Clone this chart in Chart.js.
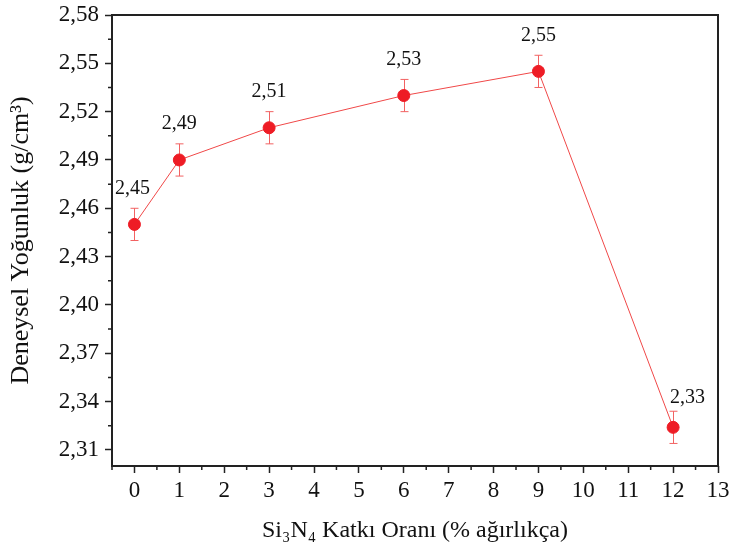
<!DOCTYPE html>
<html>
<head>
<meta charset="utf-8">
<script src="https://cdn.jsdelivr.net/npm/chart.js@4/dist/chart.umd.min.js"></script>
<style>
  body { margin: 0; background: #fff; }
  #wrap { width: 731px; height: 549px; }
</style>
</head>
<body>
<div id="wrap"><canvas id="grafik"></canvas></div>
<script>
// veriler
const katki = [0, 1, 3, 6, 9, 12];
const yogunluk = [2.450, 2.490, 2.510, 2.530, 2.545, 2.324];
const hata = [0.010, 0.010, 0.010, 0.010, 0.010, 0.010];
const etiketler = ['2,45', '2,49', '2,51', '2,53', '2,55', '2,33'];
const xTicks = [0, 1, 2, 3, 4, 5, 6, 7, 8, 9, 10, 11, 12, 13];
const yTicks = [2.31, 2.34, 2.37, 2.40, 2.43, 2.46, 2.49, 2.52, 2.55, 2.58];

const kirmizi = '#ee1c25';
const font = 'Liberation Serif';

// çerçeve, ara çentikler, hata çubukları ve etiketler
const ekler = {
  id: 'ekler',
  beforeDatasetsDraw(chart) {
    const ctx = chart.ctx;
    const xs = chart.scales.x, ys = chart.scales.y;
    ctx.save();
    ctx.strokeStyle = '#f26262';
    ctx.lineWidth = 1;
    katki.forEach((k, i) => {
      const px = Math.round(xs.getPixelForValue(k)) + 0.5;
      const y1 = ys.getPixelForValue(yogunluk[i] + hata[i]);
      const y2 = ys.getPixelForValue(yogunluk[i] - hata[i]);
      ctx.beginPath();
      ctx.moveTo(px, y1); ctx.lineTo(px, y2);
      ctx.moveTo(px - 4, y1); ctx.lineTo(px + 4, y1);
      ctx.moveTo(px - 4, y2); ctx.lineTo(px + 4, y2);
      ctx.stroke();
    });
    ctx.restore();
  },
  afterDatasetsDraw(chart) {
    const ctx = chart.ctx;
    const a = chart.chartArea;
    const xs = chart.scales.x, ys = chart.scales.y;
    ctx.save();
    ctx.strokeStyle = '#222';
    ctx.lineWidth = 2;
    ctx.strokeRect(a.left, a.top, a.right - a.left, a.bottom - a.top);

    // ara çentikler
    ctx.lineWidth = 1.5;
    ctx.beginPath();
    for (let v = -0.5; v <= 13; v += 1) {
      const px = xs.getPixelForValue(v);
      ctx.moveTo(px, a.bottom); ctx.lineTo(px, a.bottom + 4);
    }
    for (let i = 0; i < yTicks.length; i++) {
      const py = ys.getPixelForValue(yTicks[i] - 0.015);
      if (py <= a.bottom) { ctx.moveTo(a.left, py); ctx.lineTo(a.left - 4, py); }
    }
    ctx.stroke();

    // değer etiketleri
    ctx.fillStyle = '#111';
    ctx.font = '20px "' + font + '"';
    ctx.textBaseline = 'middle';
    katki.forEach((k, i) => {
      const px = xs.getPixelForValue(k);
      const py = ys.getPixelForValue(yogunluk[i]);
      if (i === katki.length - 1) {
        ctx.textAlign = 'left';
        ctx.fillText(etiketler[i], px - 3, py - 30);
      } else {
        ctx.textAlign = 'center';
        ctx.fillText(etiketler[i], px - (i === 0 ? 2 : 0), py - 36);
      }
    });
    ctx.restore();
  }
};

new Chart(document.getElementById('grafik'), {
  type: 'line',
  data: {
    datasets: [{
      data: katki.map((k, i) => ({ x: k, y: yogunluk[i] })),
      borderColor: '#f04848',
      borderWidth: 1,
      backgroundColor: kirmizi,
      pointBackgroundColor: kirmizi,
      pointBorderColor: kirmizi,
      pointRadius: 6,
      tension: 0
    }]
  },
  options: {
    responsive: true,
    maintainAspectRatio: false,
    animation: false,
    layout: { padding: { left: 0, right: 13, top: 15, bottom: 0 } },
    plugins: { legend: { display: false }, tooltip: { enabled: false } },
    scales: {
      x: {
        type: 'linear',
        min: -0.5,
        max: 13,
        afterBuildTicks: s => { s.ticks = xTicks.map(v => ({ value: v })); },
        afterFit: s => { s.height = 83; s.paddingRight = 0; },
        border: { display: false },
        grid: { drawOnChartArea: false, tickLength: 7, tickWidth: 1.5, tickColor: '#222' },
        ticks: { color: '#111', font: { family: font, size: 23 }, padding: 4, maxRotation: 0 },
        title: { display: true, text: 'Si₃N₄ Katkı Oranı (% ağırlıkça)', color: '#111', font: { family: font, size: 24 }, padding: { top: 4 } }
      },
      y: {
        min: 2.30,
        max: 2.58,
        afterBuildTicks: s => { s.ticks = yTicks.map(v => ({ value: v })); },
        afterFit: s => { s.width = 112; s.paddingTop = 0; },
        border: { display: false },
        grid: { drawOnChartArea: false, tickLength: 7, tickWidth: 1.5, tickColor: '#222' },
        ticks: {
          color: '#111',
          font: { family: font, size: 23 },
          padding: 6,
          callback: v => v.toFixed(2).replace('.', ',')
        },
        title: { display: true, text: 'Deneysel Yoğunluk (g/cm³)', color: '#111', font: { family: font, size: 26 }, padding: { top: 6, bottom: 2 } }
      }
    }
  },
  plugins: [ekler]
});
</script>
</body>
</html>
